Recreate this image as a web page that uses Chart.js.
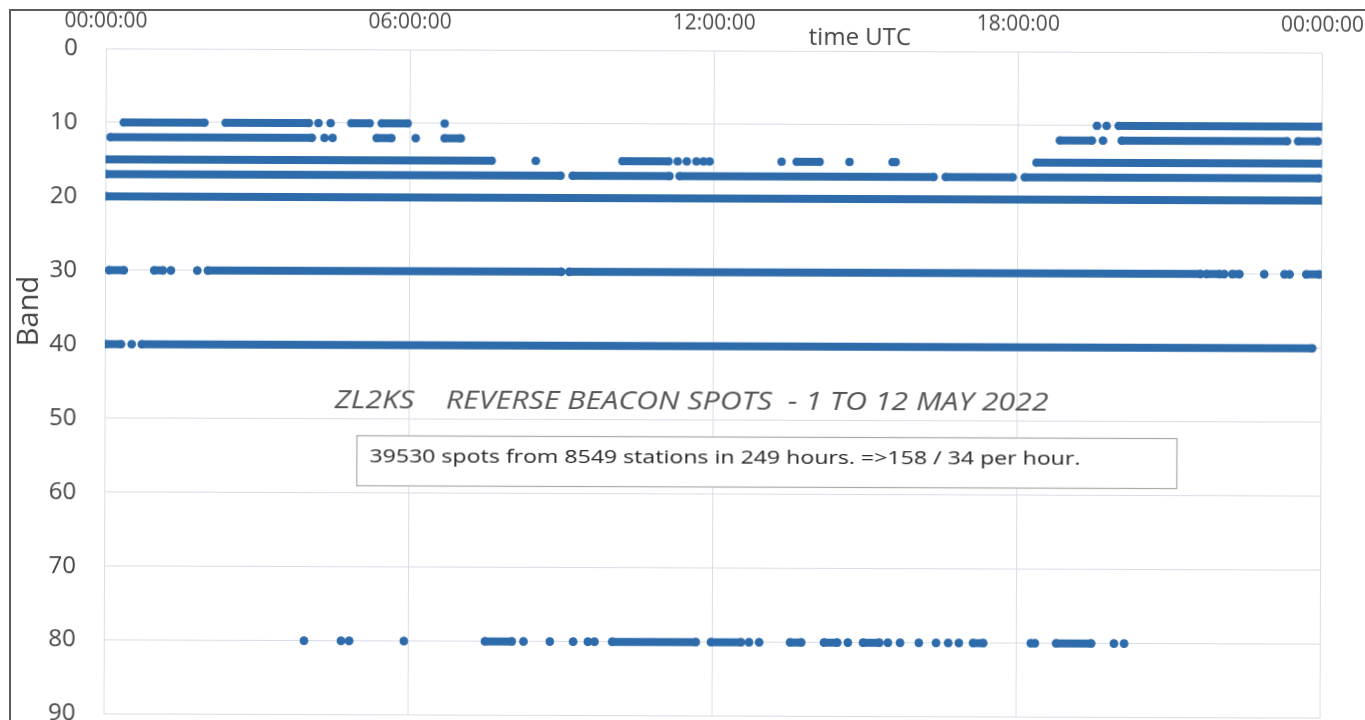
<!DOCTYPE html>
<html>
<head>
<meta charset="utf-8">
<title>ZL2KS reverse beacon spots</title>
<script src="https://cdn.jsdelivr.net/npm/chart.js@4.4.1/dist/chart.umd.min.js"></script>
<style>
  html, body { margin: 0; padding: 0; background: #fff; overflow: hidden; width: 1365px; height: 720px; }
  #frame { position: absolute; left: 9px; top: 9px; width: 1400px; height: 800px;
           border-left: 2px solid #5c5c5c; border-top: 2px solid #5c5c5c; }
  /* the original is a slightly skewed scan */
  #wrap { position: absolute; left: 0; top: 0; width: 1378px; height: 756px;
          transform: rotate(0.2deg); transform-origin: 0 0; }
  canvas { position: absolute; left: 0; top: 0; }
</style>
</head>
<body>
<div id="frame"></div>
<div id="wrap"><canvas id="spots" width="1378" height="756" style="width:1378px;height:756px"></canvas></div>
<script>
// Heure UTC (0-24) des spots par bande ; [debut, fin] = suite continue de spots, [t] = spot isolé
const BANDS = [10, 12, 15, 17, 20, 30, 40, 80];

const band10 = [[0.36, 1.95], [2.37, 4.01], [4.20], [4.44], [4.85, 5.21], [5.45, 5.96], [6.69],
  [19.56], [19.75], [19.99, 24.0]];
const band12 = [[0.10, 4.07], [4.32], [4.48], [5.35, 5.64], [6.12], [6.69, 7.01],
  [18.83, 19.46], [19.68], [20.05, 23.31], [23.53, 23.92]];
const band15 = [[0.0, 7.62], [8.49], [10.20, 11.11], [11.29], [11.47], [11.66], [11.80], [11.92],
  [13.34], [13.64, 14.09], [14.68], [15.53], [15.59], [18.37, 24.0]];
const band17 = [[0.02, 8.98], [9.22, 11.13], [11.33, 16.34], [16.58, 17.90], [18.14, 23.94]];
const band20 = [[0.02, 24.0]];
const band30 = [[0.08, 0.37], [0.97, 1.14], [1.30], [1.82], [2.03, 9.0], [9.16, 21.61],
  [21.73, 21.99], [22.08], [22.24, 22.38], [22.87], [23.27], [23.37], [23.70, 23.96]];
const band40 = [[0.02, 0.32], [0.53], [0.73, 23.82]];
const band80 = [[3.95], [4.68], [4.84], [5.92], [7.52, 8.05], [8.28], [8.80], [9.26], [9.55], [9.68],
  [10.03, 11.68], [11.98, 12.57], [12.73], [12.93], [13.54, 13.76], [14.21, 14.47], [14.68],
  [14.98, 15.30], [15.47], [15.71], [16.08], [16.42], [16.66], [16.87], [17.15, 17.35],
  [18.29], [18.37], [18.79, 19.48], [19.93], [20.13]];

const RUNS = [band10, band12, band15, band17, band20, band30, band40, band80];

const X_TICK_LABELS = ['00:00:00', '06:00:00', '12:00:00', '18:00:00', '00:00:00'];
const Y_TICKS = [0, 10, 20, 30, 40, 50, 60, 70, 80, 90];

const TITLE = 'ZL2KS    REVERSE BEACON SPOTS  - 1 TO 12 MAY 2022';
const NOTE = '39530 spots from 8549 stations in 249 hours. =>158 / 34 per hour.';

const DOT = '#2e6bab';
const GRID = '#d9dde6';
const FONT = "'Open Sans', 'Noto Sans', sans-serif";

// Chaque suite devient un segment ; un null coupe la ligne entre deux suites
function toPoints(band, runs) {
  const pts = [];
  runs.forEach(r => {
    r.forEach(t => pts.push({ x: t, y: band }));
    pts.push({ x: r[r.length - 1], y: null });
  });
  return pts;
}

const datasets = BANDS.map((b, i) => ({
  label: b + ' m',
  data: toPoints(b, RUNS[i]),
  showLine: true,
  spanGaps: false,
  borderColor: DOT,
  borderWidth: 8,
  borderCapStyle: 'round',
  pointRadius: 4.3,
  pointHoverRadius: 4.3,
  pointBackgroundColor: DOT,
  pointBorderWidth: 0
}));

// texte étiré à une largeur donnée (le scan est légèrement élargi)
function fitText(ctx, text, x, y, width) {
  const w = ctx.measureText(text).width;
  ctx.save();
  ctx.translate(x, y);
  ctx.scale(width / w, 1);
  ctx.fillText(text, 0, 0);
  ctx.restore();
}

const annotations = {
  id: 'annotations',
  afterDraw(chart) {
    const ctx = chart.ctx;
    ctx.save();
    ctx.fillStyle = '#444';
    ctx.textBaseline = 'middle';

    ctx.font = '24px ' + FONT;
    ctx.textAlign = 'center';
    ctx.fillText('time UTC', 860, 35);

    ctx.save();
    ctx.translate(31, 311);
    ctx.rotate(-Math.PI / 2);
    ctx.font = '29px ' + FONT;
    ctx.fillText('Band', 0, 0);
    ctx.restore();

    ctx.textAlign = 'left';
    ctx.fillStyle = '#555';
    ctx.font = 'italic 26px ' + FONT;
    fitText(ctx, TITLE, 336, 400, 714);

    ctx.fillStyle = '#fff';
    ctx.fillRect(358.5, 434.5, 820, 50);
    ctx.strokeStyle = '#a9a9a9';
    ctx.lineWidth = 1.2;
    ctx.strokeRect(358.5, 434.5, 820, 50);

    ctx.fillStyle = '#262626';
    ctx.font = '19px ' + FONT;
    fitText(ctx, NOTE, 371, 456, 711);
    ctx.restore();
  }
};

new Chart(document.getElementById('spots'), {
  type: 'scatter',
  data: { datasets },
  options: {
    responsive: false,
    animation: false,
    events: [],
    layout: { padding: { left: 0, top: 0, right: 42, bottom: 26 } },
    plugins: { legend: { display: false }, tooltip: { enabled: false } },
    scales: {
      x: {
        type: 'linear',
        position: 'top',
        min: 0,
        max: 24,
        afterFit: s => { s.height = 48; },
        afterBuildTicks: s => { s.ticks = X_TICK_LABELS.map((_, i) => ({ value: i * 6 })); },
        grid: { color: GRID, lineWidth: 1, drawTicks: false },
        border: { display: false },
        ticks: {
          padding: 14,
          maxRotation: 0,
          autoSkip: false,
          color: '#4a4a4a',
          font: { family: FONT, size: 21 },
          callback: (v, i) => X_TICK_LABELS[i]
        }
      },
      y: {
        type: 'linear',
        reverse: true,
        min: 0,
        max: 90,
        afterFit: s => { s.width = 106; },
        afterBuildTicks: s => { s.ticks = Y_TICKS.map(v => ({ value: v })); },
        grid: { color: GRID, lineWidth: 1, drawTicks: false },
        border: { color: GRID },
        ticks: {
          padding: 28,
          color: '#444',
          font: { family: FONT, size: 24 }
        }
      }
    }
  },
  plugins: [annotations]
});
</script>
</body>
</html>
